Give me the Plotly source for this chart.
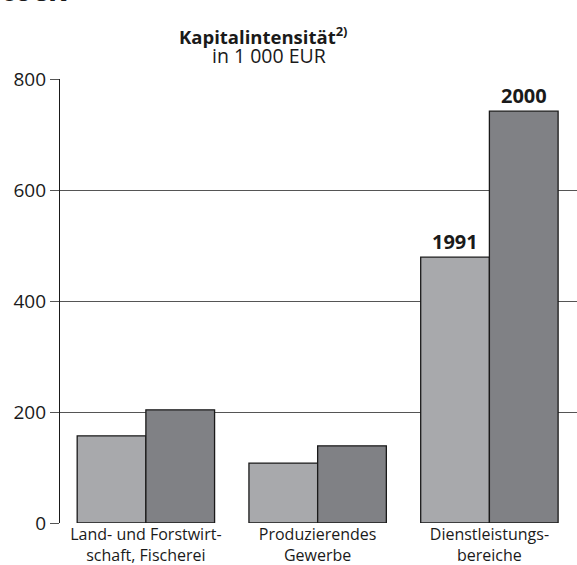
import plotly.graph_objects as go

categories = ['Land- und Forstwirt-<br>schaft, Fischerei',
              'Produzierendes<br>Gewerbe',
              'Dienstleistungs-<br>bereiche']
values_1991 = [157, 108, 479]
values_2000 = [204, 139, 742]
years = ['1991', '2000']
y_ticks = [0, 200, 400, 600, 800]

FONT = 'Open Sans'
pos = list(range(len(categories)))

fig = go.Figure()
fig.add_trace(go.Bar(
    x=pos, y=values_1991, name=years[0],
    marker=dict(color='#a8a9ac', line=dict(color='#1a1a1a', width=1.3)),
))
fig.add_trace(go.Bar(
    x=pos, y=values_2000, name=years[1],
    marker=dict(color='#808185', line=dict(color='#1a1a1a', width=1.3)),
))

# year labels above the last group
fig.add_annotation(x=pos[-1] - 0.2, y=values_1991[-1], text='<b>' + years[0] + '</b>',
                   showarrow=False, yanchor='bottom', yshift=0,
                   font=dict(size=20, color='#1a1a1a', family=FONT))
fig.add_annotation(x=pos[-1] + 0.2, y=values_2000[-1], text='<b>' + years[1] + '</b>',
                   showarrow=False, yanchor='bottom', yshift=0,
                   font=dict(size=20, color='#1a1a1a', family=FONT))

# titles
fig.add_annotation(xref='paper', yref='paper', x=0.393, y=1.062,
                   text='<b>Kapitalintensität<sup>2)</sup></b>', showarrow=False,
                   xanchor='center', yanchor='bottom',
                   font=dict(size=18.5, color='#1a1a1a', family=FONT))
fig.add_annotation(xref='paper', yref='paper', x=0.404, y=1.017,
                   text='in 1 000 EUR', showarrow=False,
                   xanchor='center', yanchor='bottom',
                   font=dict(size=19.5, color='#1a1a1a', family=FONT))
# cut-off heading fragment at the very top
fig.add_annotation(xref='paper', yref='paper', x=-0.118, y=1.152,
                   text='<b>tock</b>', showarrow=False,
                   xanchor='left', yanchor='bottom',
                   font=dict(size=30, color='#1a1a1a', family=FONT))

fig.update_layout(
    width=577, height=565,
    margin=dict(l=60, r=0, t=79, b=42),
    paper_bgcolor='white', plot_bgcolor='white',
    barmode='group', bargap=0.2, bargroupgap=0,
    showlegend=False,
    font=dict(family=FONT, color='#1a1a1a'),
    xaxis=dict(
        range=[-0.5, 2.51], tickvals=pos, ticktext=categories,
        showgrid=False, zeroline=False, ticks='', automargin=False,
        tickfont=dict(size=16),
    ),
    yaxis=dict(
        range=[0, 800], tickvals=y_ticks, automargin=False,
        showgrid=True, gridcolor='#555555', gridwidth=1,
        zeroline=False, showline=True, linecolor='#1a1a1a', linewidth=1.3,
        ticks='outside', ticklen=9, tickcolor='#555555',
        tickfont=dict(size=19),
    ),
)

# drop the browser's default page margin so the figure sits at 0,0
fig.write_html('out.html', config={'displayModeBar': False},
               post_script="document.body.style.margin='0';")
